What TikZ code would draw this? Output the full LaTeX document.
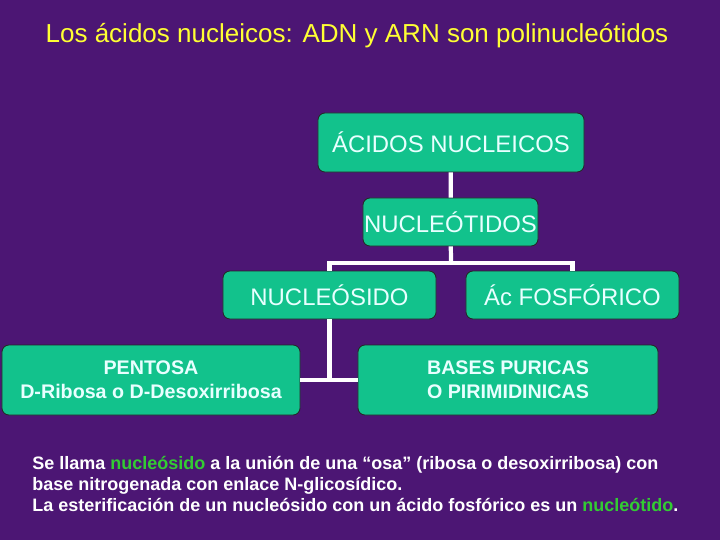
\documentclass[tikz,border=0pt]{standalone}
\usepackage{fontspec}
\setmainfont{Liberation Sans}
\usetikzlibrary{positioning, calc}
\definecolor{cPurple}{RGB}{76,22,116}
\definecolor{cTeal}{RGB}{18,194,140}
\definecolor{cPale}{RGB}{232,255,255}
\definecolor{cYellow}{RGB}{255,255,51}
\definecolor{cLime}{RGB}{51,204,51}

\begin{document}
\begin{tikzpicture}[x=0.025cm, y=-0.025cm,
            box/.style={rectangle, rounded corners=5pt, draw=black!85, line width=0.6pt,
                        fill=cTeal, text=cPale, inner sep=0pt, align=center,
                        font=\fontsize{17}{20}\selectfont},
            smallbox/.style={box, font=\fontsize{14}{17}\selectfont\bfseries},
            ed/.style={draw=white, line width=3pt}]
            \fill[cPurple] (0,0) rectangle (720,540);
            \node[text=cYellow, font=\fontsize{18.5}{22}\selectfont] (title) at (357,36)
              {Los ácidos nucleicos: ADN y ARN son polinucleótidos};
            \node[box, minimum width=6.65cm, minimum height=1.475cm] (acidos) at (451,142.5) {ÁCIDOS NUCLEICOS};
            \node[box, minimum width=4.375cm, minimum height=1.2cm] (nucleotidos) at (450.5,222) {NUCLEÓTIDOS};
            \node[box, minimum width=5.325cm, minimum height=1.2cm] (nucleosido) at (329.5,295) {NUCLEÓSIDO};
            \node[box, minimum width=5.325cm, minimum height=1.2cm] (fosforico) at (572.5,295) {Ác FOSFÓRICO};
            \node[smallbox, minimum width=7.45cm, minimum height=1.75cm] (pentosa) at (151,380)
              {PENTOSA\\D-Ribosa o D-Desoxirribosa};
            \node[smallbox, minimum width=7.5cm, minimum height=1.75cm] (bases) at (508,380)
              {BASES PURICAS\\O PIRIMIDINICAS};
            \coordinate (fork) at (451,263);
            \draw[ed] (acidos) -- (nucleotidos);
            \draw[ed] (nucleotidos) -- (fork);
            \draw[ed] (nucleosido.north) |- (fork) -| (fosforico.north);
            \draw[ed] (nucleosido.south) -- (nucleosido.south |- pentosa.east);
            \draw[ed] (pentosa.east) -- (bases.west);
            \node[anchor=north west, text=white, align=left, inner sep=0pt,
                  font=\fontsize{12.8}{15}\selectfont\bfseries] (nota) at (32,456)
              {Se llama \textcolor{cLime}{nucleósido} a la unión de una “osa” (ribosa o desoxirribosa) con\\
               base nitrogenada con enlace N-glicosídico.\\
               La esterificación de un nucleósido con un ácido fosfórico es un \textcolor{cLime}{nucleótido}.};
        \end{tikzpicture}
\end{document}
